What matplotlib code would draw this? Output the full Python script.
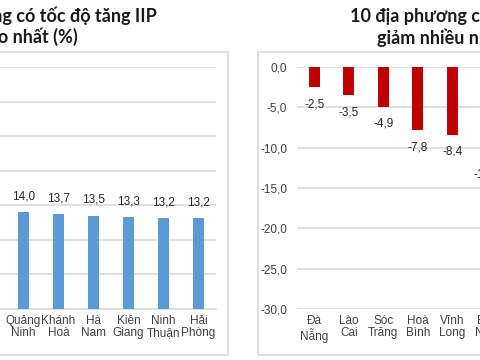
import matplotlib
matplotlib.use("Agg")
import matplotlib.pyplot as plt
from matplotlib.patches import Rectangle

# left chart: provinces with highest IIP growth (visible part)
top_names = ["Quảng\nNinh", "Khánh\nHoà", "Hà\nNam", "Kiên\nGiang", "Ninh\nThuận", "Hải\nPhòng"]
top_values = [14.0, 13.7, 13.5, 13.3, 13.2, 13.2]
top_ticks = [0, 5, 10, 15, 20, 25, 30, 35]

# right chart: provinces with largest decrease (visible part)
low_names = ["Đà\nNẵng", "Lào\nCai", "Sóc\nTrăng", "Hoà\nBình", "Vĩnh\nLong", "Bắc\nNinh"]
low_values = [-2.5, -3.5, -4.9, -7.8, -8.4, -11.2]
low_ticks = [0, -5, -10, -15, -20, -25, -30]

W, H = 480, 360
BLUE = "#5b9bd5"
RED = "#c00000"
GRID = "#d9d9d9"
TXT = "#404040"
LBL_FONT = ["Liberation Sans Narrow", "Liberation Sans", "DejaVu Sans"]
TITLE_FONT = ["Lato", "DejaVu Sans"]


def box(x0, y0, x1, y1):
    # pixel box (top-left origin) -> figure fraction rect
    return [x0 / W, 1 - y1 / H, (x1 - x0) / W, (y1 - y0) / H]


def fmt(v):
    return f"{v:.1f}".replace(".", ",")


fig = plt.figure(figsize=(4.8, 3.6), dpi=100)
fig.patch.set_facecolor("white")

# panel frames
for x0, x1 in [(-20, 228), (258, 500)]:
    fig.patches.append(Rectangle((x0 / W, 1 - 355 / H), (x1 - x0) / W, (355 - 52) / H,
                                 transform=fig.transFigure, fill=False,
                                 edgecolor=GRID, linewidth=1.2))

# ---- left chart
ax1 = fig.add_axes(box(-29, 67, 216, 309))
x1 = list(range(len(top_values)))
bars = ax1.bar(x1, top_values, width=0.3, color=BLUE, zorder=3)
ax1.set_xlim(-1.5, len(top_values) - 0.5)
ax1.set_ylim(0, 35)
ax1.set_yticks(top_ticks)
ax1.yaxis.grid(True, color=GRID, linewidth=1.2, zorder=0)
ax1.tick_params(axis="y", length=0, labelleft=False)
ax1.set_xticks(x1)
ax1.set_xticklabels(top_names, fontsize=8.5, color=TXT, family=LBL_FONT, linespacing=1.1)
ax1.tick_params(axis="x", length=0, pad=4)
for s in ["top", "right", "left"]:
    ax1.spines[s].set_visible(False)
ax1.spines["bottom"].set_color(GRID)
ax1.spines["bottom"].set_linewidth(1.2)
for b, v in zip(bars, top_values):
    ax1.annotate(fmt(v), (b.get_x() + b.get_width() / 2, v), xytext=(0, 7),
                 textcoords="offset points", ha="center", va="bottom",
                 fontsize=8.5, color="#262626", family=LBL_FONT)

# ---- right chart
ax2 = fig.add_axes(box(297, 67, 297 + 6 * 34.5, 309))
x2 = list(range(len(low_values)))
bars = ax2.bar(x2, low_values, width=0.32, color=RED, zorder=3)
ax2.set_xlim(-0.5, len(low_values) - 0.5)
ax2.set_ylim(-30, 0)
ax2.set_yticks(low_ticks)
ax2.set_yticklabels([fmt(t) for t in low_ticks], fontsize=8.5, color=TXT, family=LBL_FONT)
ax2.yaxis.grid(True, color=GRID, linewidth=1.2, zorder=0)
ax2.tick_params(axis="y", length=0, pad=7)
ax2.set_xticks(x2)
ax2.set_xticklabels(low_names, fontsize=8.5, color=TXT, family=LBL_FONT, linespacing=1.1)
ax2.tick_params(axis="x", length=0, pad=4)
for s in ax2.spines.values():
    s.set_visible(False)
for b, v in zip(bars, low_values):
    ax2.annotate(fmt(v), (b.get_x() + b.get_width() / 2, v), xytext=(0, -8),
                 textcoords="offset points", ha="center", va="top",
                 fontsize=8.5, color="#262626", family=LBL_FONT)

# ---- titles (cut off by the picture edges)
tkw = dict(fontsize=13, fontweight="bold", color="#1a1a1a", family=TITLE_FONT, va="center")
fig.text(157 / W, 1 - 16 / H, "10 địa phương có tốc độ tăng IIP", ha="right", **tkw)
fig.text(78 / W, 1 - 37 / H, "cao nhất (%)", ha="right", **tkw)
fig.text(350 / W, 1 - 16 / H, "10 địa phương có chỉ số IIP", ha="left", **tkw)
fig.text(377 / W, 1 - 38 / H, "giảm nhiều nhất (%)", ha="left", **tkw)

fig.savefig("out.png", dpi=100)
